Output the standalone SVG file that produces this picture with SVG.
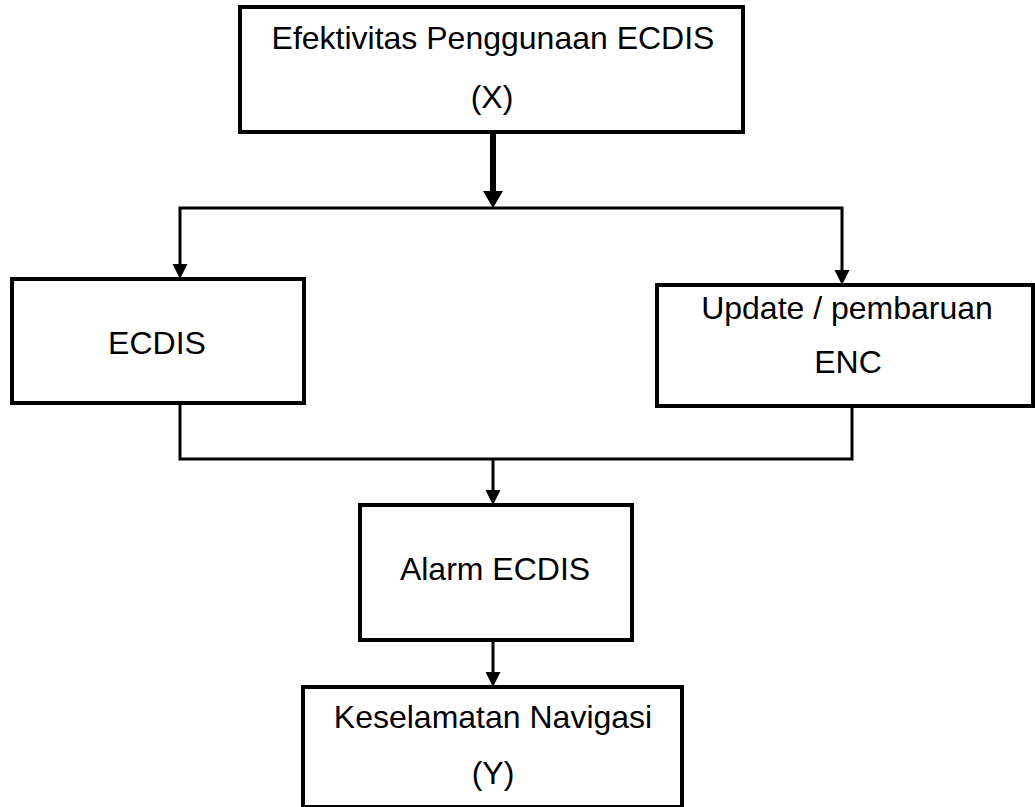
<svg xmlns="http://www.w3.org/2000/svg" width="1035" height="807" viewBox="0 0 1035 807">
<style>
.box{fill:#fff;stroke:#000;stroke-width:4}
.t{font-family:"Liberation Sans",Arial,sans-serif;font-size:32px;fill:#000;text-anchor:middle}
.c{fill:none;stroke:#000;stroke-width:3;stroke-linejoin:miter}
.thick{fill:none;stroke:#000;stroke-width:6}
</style>
<defs>
<marker id="ah" markerUnits="userSpaceOnUse" markerWidth="16" markerHeight="16" refX="5" refY="7.5" orient="auto-start-reverse">
<path d="M0,0 L15,7.5 L0,15 Z" fill="#000"/>
</marker>
<marker id="ahb" markerUnits="userSpaceOnUse" markerWidth="18" markerHeight="21" refX="7" refY="10" orient="auto">
<path d="M0,0 L17,10 L0,20 Z" fill="#000"/>
</marker>
</defs>
<rect width="1035" height="807" fill="#fff"/>
<g id="connectors">
<line class="thick" x1="493" y1="132" x2="493" y2="198" marker-end="url(#ahb)"/>
<path class="c" d="M180,269 V208 H842 V275" marker-start="url(#ah)" marker-end="url(#ah)"/>
<path class="c" d="M180,404 V459 H852 V407"/>
<line class="c" x1="493" y1="459" x2="493" y2="495" marker-end="url(#ah)"/>
<line class="c" x1="493" y1="640" x2="493" y2="677" marker-end="url(#ah)"/>
</g>
<g id="node-x">
<rect class="box" x="240" y="7" width="503" height="125"/>
<text class="t" x="493" y="49">Efektivitas Penggunaan ECDIS</text>
<text class="t" x="492" y="108">(X)</text>
</g>
<g id="node-ecdis">
<rect class="box" x="12" y="279" width="292" height="124"/>
<text class="t" x="157" y="354">ECDIS</text>
</g>
<g id="node-update">
<rect class="box" x="657" y="285" width="376" height="121"/>
<text class="t" x="847" y="319">Update / pembaruan</text>
<text class="t" x="848" y="373">ENC</text>
</g>
<g id="node-alarm">
<rect class="box" x="360" y="505" width="272" height="135"/>
<text class="t" x="495" y="580">Alarm ECDIS</text>
</g>
<g id="node-y">
<rect class="box" x="303" y="687" width="379" height="120"/>
<text class="t" x="493" y="728">Keselamatan Navigasi</text>
<text class="t" x="493" y="784">(Y)</text>
</g>
</svg>
